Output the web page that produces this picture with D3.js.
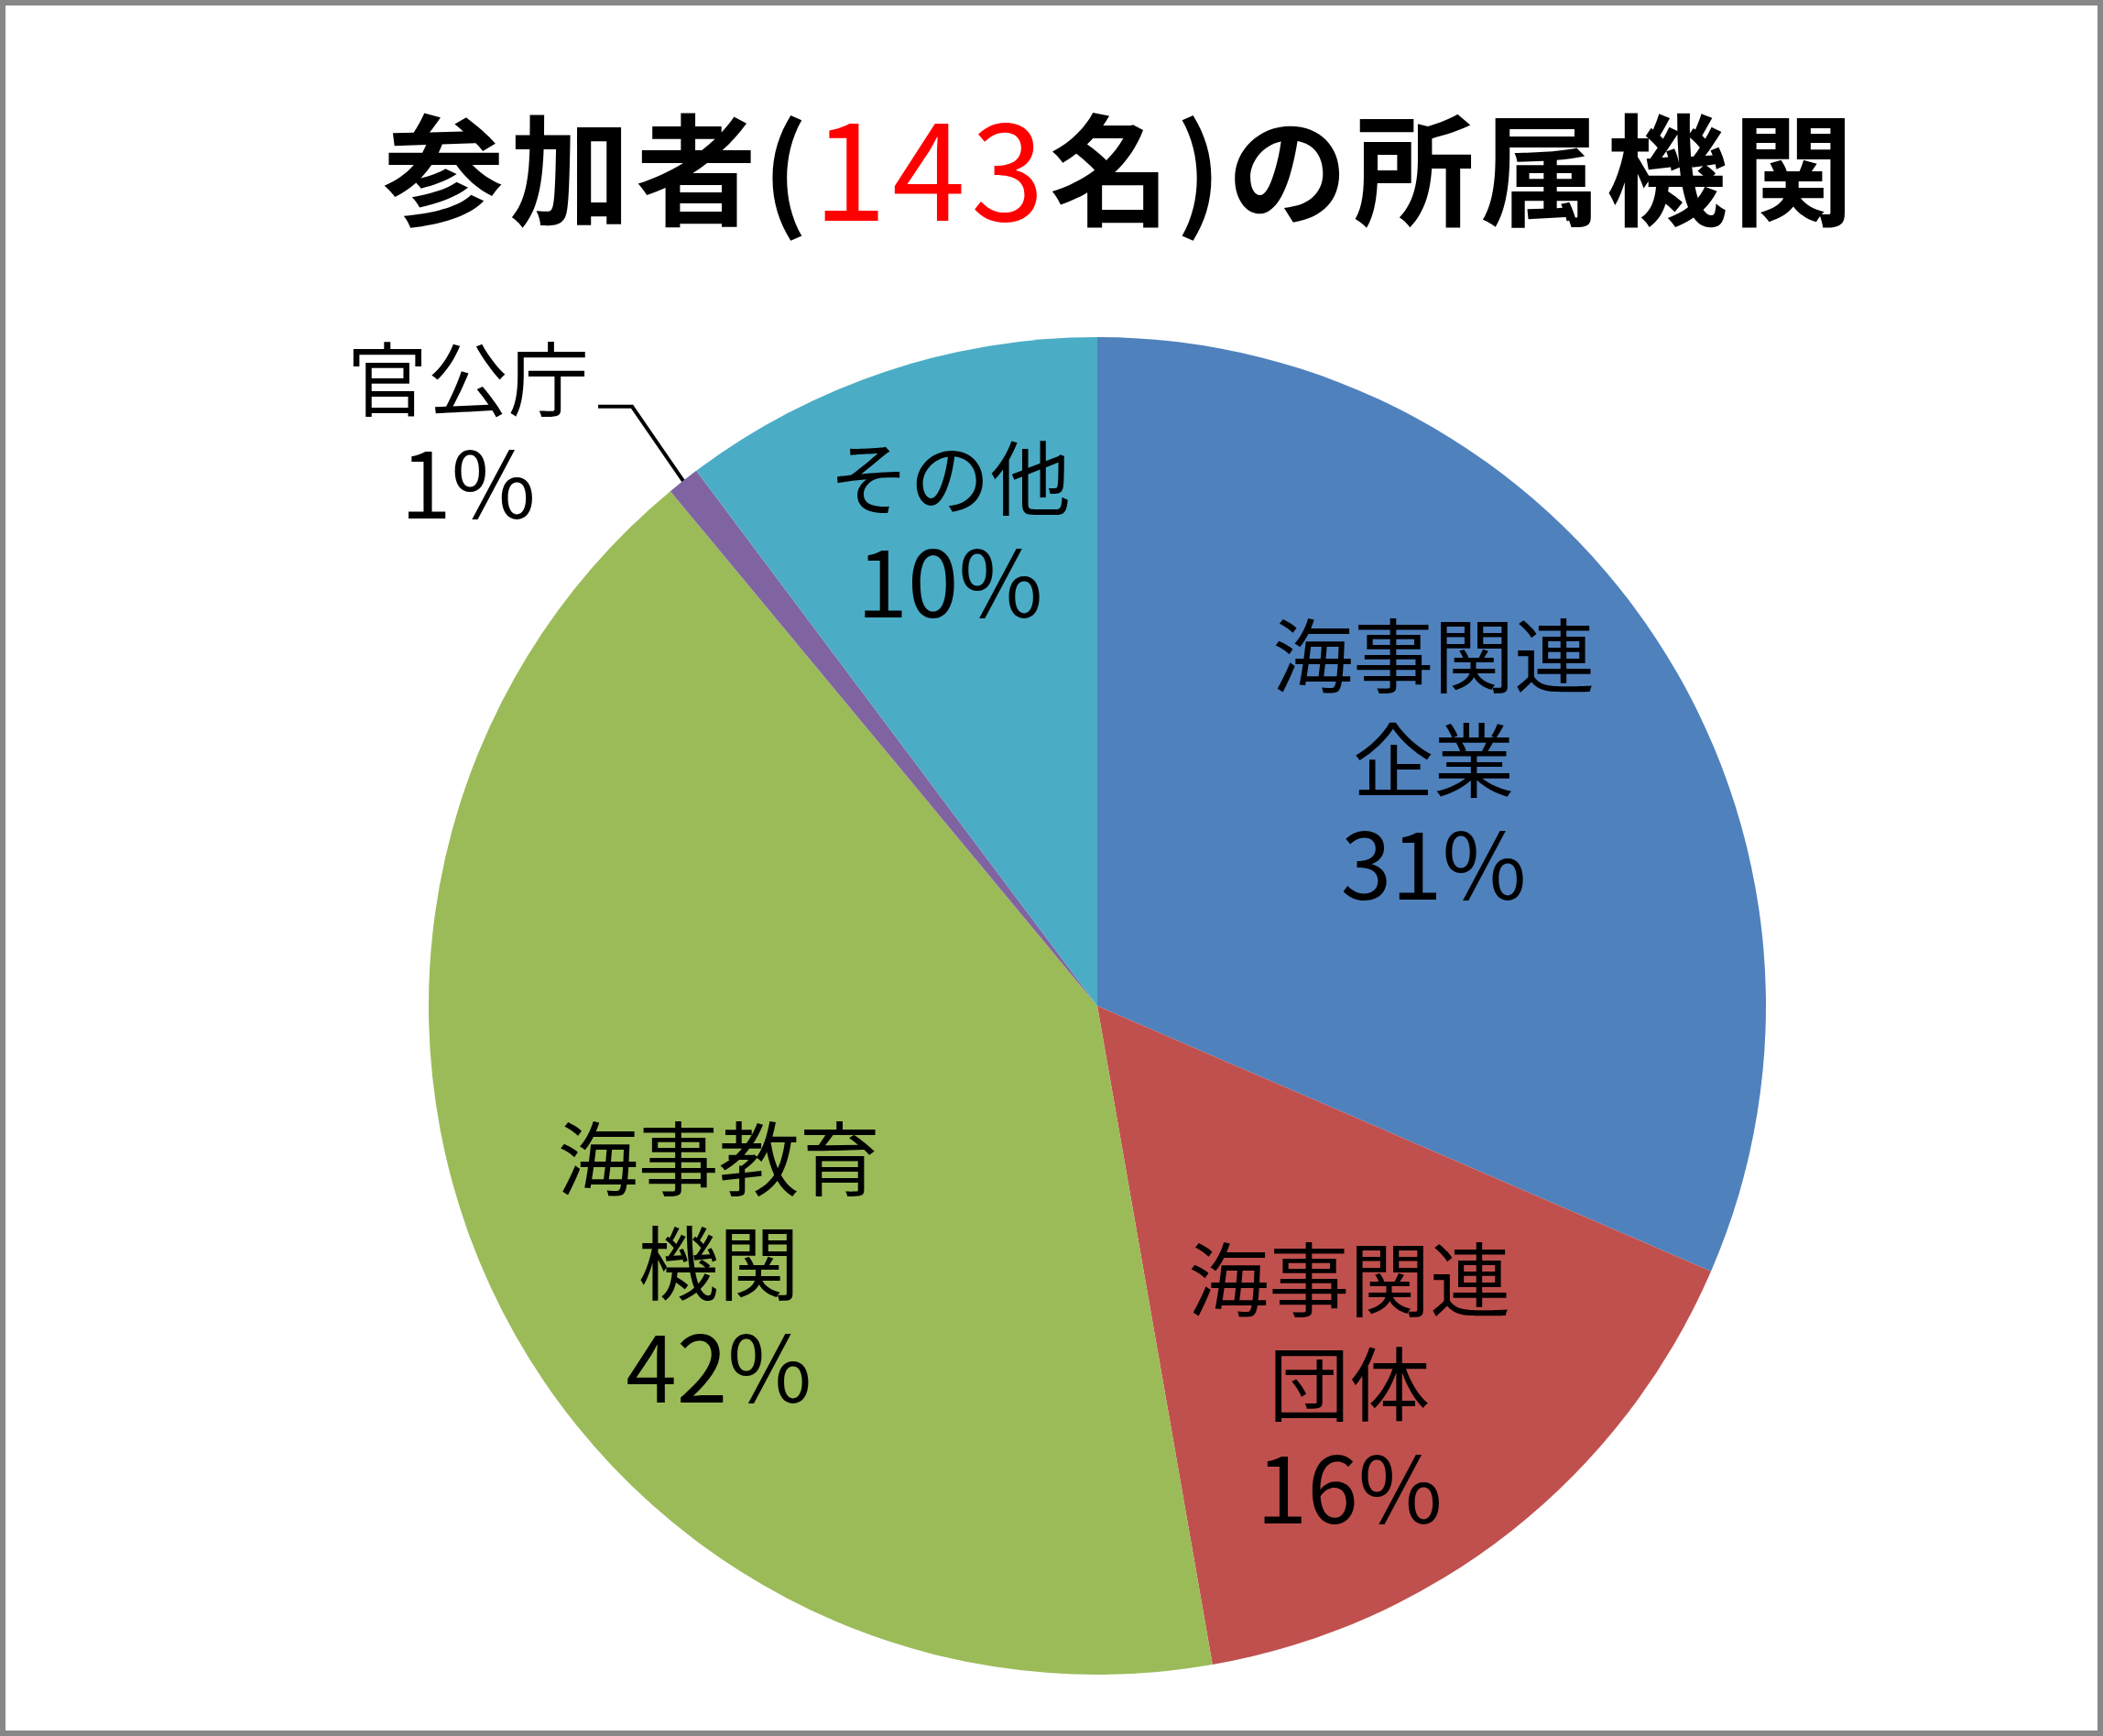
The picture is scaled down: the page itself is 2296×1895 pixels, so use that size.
<!DOCTYPE html>
<html>
<head>
<meta charset="utf-8">
<script src="https://cdn.jsdelivr.net/npm/d3@7"></script>
<style>
  html, body { margin: 0; padding: 0; background: #fff; }
  svg { display: block; }
  text { font-family: "Noto Sans CJK JP", "Noto Sans", sans-serif; fill: #000; }
</style>
</head>
<body>
<svg id="chart" width="2296" height="1895"></svg>
<script>
// ---- data ----
const titleParts = ["参加者(", "143", "名)の所属機関"];
const categories = ["海事関連企業", "海事関連団体", "海事教育機関", "官公庁", "その他"];
const labelLines = [["海事関連", "企業"], ["海事関連", "団体"], ["海事教育", "機関"], ["官公庁"], ["その他"]];
const counts = [40, 20, 53, 1, 13];
const colors = ["#4F81BD", "#C0504D", "#9BBB59", "#8064A2", "#4BACC6"];

// ---- layout (not data) ----
const W = 2296, H = 1895;
const cx = 1198, cy = 1098, R = 730;
// label block centres, in units of radius, relative to the pie centre
const labelOffsets = [[0.503, -0.375], [0.377, 0.558], [-0.566, 0.377], [-0.941, -0.866], [-0.2205, -0.719]];
const lineGap = 114;

const svg = d3.select("#chart");

// background + frame
svg.append("rect").attr("x", 3).attr("y", 3).attr("width", W - 6).attr("height", H - 6)
  .attr("fill", "#fff").attr("stroke", "#878787").attr("stroke-width", 6);

// title
const title = svg.append("text")
  .attr("x", 1224).attr("y", 178)
  .attr("text-anchor", "middle")
  .attr("dominant-baseline", "central")
  .style("font-size", "132px")
  .style("letter-spacing", "6px")
  .style("font-weight", 700);
title.append("tspan").text(titleParts[0]);
title.append("tspan").text(titleParts[1]).style("fill", "#FF0000").style("font-weight", 400).style("font-size", "144px");
title.append("tspan").text(titleParts[2]);

// pie
const total = d3.sum(counts);
const pie = d3.pie().sort(null).value(d => d)(counts);
const arc = d3.arc().innerRadius(0).outerRadius(R);
const edgeArc = d3.arc().innerRadius(R).outerRadius(R);

const g = svg.append("g").attr("transform", `translate(${cx},${cy})`);
g.selectAll("path.slice").data(pie).enter().append("path")
  .attr("class", "slice")
  .attr("d", arc)
  .attr("fill", (d, i) => colors[i]);

// labels
pie.forEach((d, i) => {
  const lines = labelLines[i].concat([Math.round(d.data / total * 100) + "%"]);
  const bx = labelOffsets[i][0] * R, by = labelOffsets[i][1] * R;
  const n = lines.length;
  const t = g.append("text").attr("text-anchor", "middle");
  lines.forEach((ln, k) => {
    const isPct = k === n - 1;
    t.append("tspan")
      .attr("x", bx)
      .attr("y", by + (k - (n - 1) / 2) * lineGap)
      .attr("dominant-baseline", "central")
      .style("font-size", isPct ? "100px" : "88px")
      .text(ln);
  });

  // leader line for small slice outside the pie
  if (i === 3) {
    const [ex, ey] = edgeArc.centroid(d);
    const sx = bx + 142, sy = by - 22;
    const kx = bx + 179;
    g.append("path")
      .attr("d", `M${sx},${sy}L${kx},${sy}L${ex},${ey}`)
      .attr("fill", "none")
      .attr("stroke", "#000")
      .attr("stroke-width", 4);
  }
});
</script>
</body>
</html>
